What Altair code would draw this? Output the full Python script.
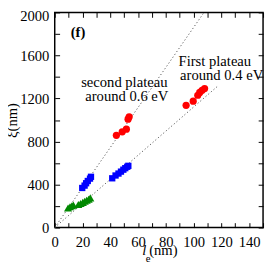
import altair as alt
import pandas as pd

FONT = "Liberation Serif"

# ---- data ----
red_a_x = [44.4, 48.6, 51.6, 52.8, 53.6]
red_a_y = [858, 890, 915, 1008, 1030]
red_b_x = [94.6, 99.7, 103.0, 104.4, 106.1, 107.9]
red_b_y = [1136, 1175, 1230, 1256, 1276, 1292]

blue_x = [19.8, 21.5, 22.6, 23.8, 25.4, 26.1,
          41.4, 43.8, 45.9, 47.7, 49.4, 50.8, 52.2, 53.0]
blue_y = [368, 390, 412, 433, 455, 472,
          458, 484, 502, 520, 538, 552, 565, 574]

green_x = [9.6, 11.0, 12.4, 13.4, 17.0, 18.6, 20.2, 21.6, 23.0, 24.4, 25.6]
green_y = [182, 193, 203, 210, 214, 224, 234, 244, 254, 264, 276]

line1_x = [0, 107.5]
line1_y = [0, 2000]
line2_x = [0, 118]
line2_y = [0, 1322]

ann_text = ["second plateau", "around 0.6 eV", "First plateau", "around 0.4 eV"]
ann_x = [50.1, 51.9, 115.3, 120.2]
ann_y = [1308, 1172, 1500, 1370]

panel_label = ["(f)"]
panel_x = [16.8]
panel_y = [1819]

x_ticks = list(range(0, 151, 10))
y_ticks = list(range(0, 2001, 200))

# ---- tables ----
red_df = pd.DataFrame({"x": red_a_x + red_b_x, "y": red_a_y + red_b_y})
blue_df = pd.DataFrame({"x": blue_x, "y": blue_y})
green_df = pd.DataFrame({"x": green_x, "y": green_y})
l1 = pd.DataFrame({"x": line1_x, "y": line1_y})
l2 = pd.DataFrame({"x": line2_x, "y": line2_y})
ann_df = pd.DataFrame({"x": ann_x, "y": ann_y, "t": ann_text})
panel_df = pd.DataFrame({"x": panel_x, "y": panel_y, "t": panel_label})
title_df = pd.DataFrame({"x": [75], "y": [0]})

xs = alt.Scale(domain=[0, 150], nice=False, zero=False)
ys = alt.Scale(domain=[0, 2000], nice=False, zero=False)

common_axis = dict(domain=False, grid=False, tickSize=5, offset=-5,
                   tickColor="black", tickWidth=1,
                   labelFont=FONT, labelFontSize=15, labelColor="black",
                   labelFlush=False, labelOverlap=False)

ax_bottom = alt.Axis(orient="bottom", values=x_ticks, format="d",
                     labelExpr="datum.value % 20 == 0 && datum.value < 150 ? datum.label : ''",
                     labelPadding=7, title=None, **common_axis)
ax_left = alt.Axis(orient="left", values=y_ticks, format="d",
                   labelExpr="datum.value % 400 == 0 ? datum.label : ''",
                   labelPadding=6,
                   labelOffset={"condition": {"test": "datum.value == 2000", "value": 3}, "value": 0},
                   title="ξ(nm)", titleFont=FONT, titleFontSize=15,
                   titleFontWeight="normal", titleColor="black", titlePadding=0,
                   **common_axis)
ax_top = alt.Axis(orient="top", values=x_ticks, labels=False, title=None,
                  domain=False, grid=False, tickSize=5, offset=-5,
                  tickColor="black", tickWidth=1)
ax_right = alt.Axis(orient="right", values=y_ticks, labels=False, title=None,
                    domain=False, grid=False, tickSize=5, offset=-5,
                    tickColor="black", tickWidth=1)


def enc(ax_x=None, ax_y=None):
    return dict(x=alt.X("x:Q", scale=xs, axis=ax_x),
                y=alt.Y("y:Q", scale=ys, axis=ax_y))


dot = dict(color="#555555", strokeWidth=1, strokeDash=[1.2, 2.4])
line1 = alt.Chart(l1).mark_line(**dot).encode(**enc())
line2 = alt.Chart(l2).mark_line(**dot).encode(**enc())

red = alt.Chart(red_df).mark_point(shape="circle", filled=True, size=55,
                                   color="#ff0000", opacity=1).encode(**enc(ax_bottom, ax_left))
blue = alt.Chart(blue_df).mark_point(shape="square", filled=True, size=42,
                                     color="#0000ff", opacity=1).encode(**enc(ax_top, ax_right))
green = alt.Chart(green_df).mark_point(shape="triangle-up", filled=True, size=70,
                                       color="#008800", opacity=1).encode(**enc())

ann = alt.Chart(ann_df).mark_text(font=FONT, fontSize=15, align="center",
                                  baseline="alphabetic", color="black").encode(
    text="t:N", **enc())
panel = alt.Chart(panel_df).mark_text(font=FONT, fontSize=15, fontWeight="bold",
                                      align="center", baseline="middle",
                                      color="black").encode(text="t:N", **enc())

t_l = alt.Chart(title_df).mark_text(text="l", font=FONT, fontSize=15, fontStyle="italic",
                                    align="left", baseline="alphabetic", dx=-17, dy=28,
                                    color="black").encode(**enc())
t_e = alt.Chart(title_df).mark_text(text="e", font=FONT, fontSize=11,
                                    align="left", baseline="alphabetic", dx=-13.5, dy=35,
                                    color="black").encode(**enc())
t_nm = alt.Chart(title_df).mark_text(text="(nm)", font=FONT, fontSize=15,
                                     align="left", baseline="alphabetic", dx=-10, dy=28,
                                     color="black").encode(**enc())

chart = alt.layer(line1, line2, red, blue, green, ann, panel, t_l, t_e, t_nm).resolve_axis(
    x="independent", y="independent"
).properties(
    width=214, height=221,
    autosize=alt.AutoSizeParams(type="none"),
    padding={"left": 48, "top": 1, "right": 2, "bottom": 38},
).configure_view(stroke="black", strokeWidth=1.5)

chart.save("out.html", embed_options={"renderer": "svg", "actions": False})
